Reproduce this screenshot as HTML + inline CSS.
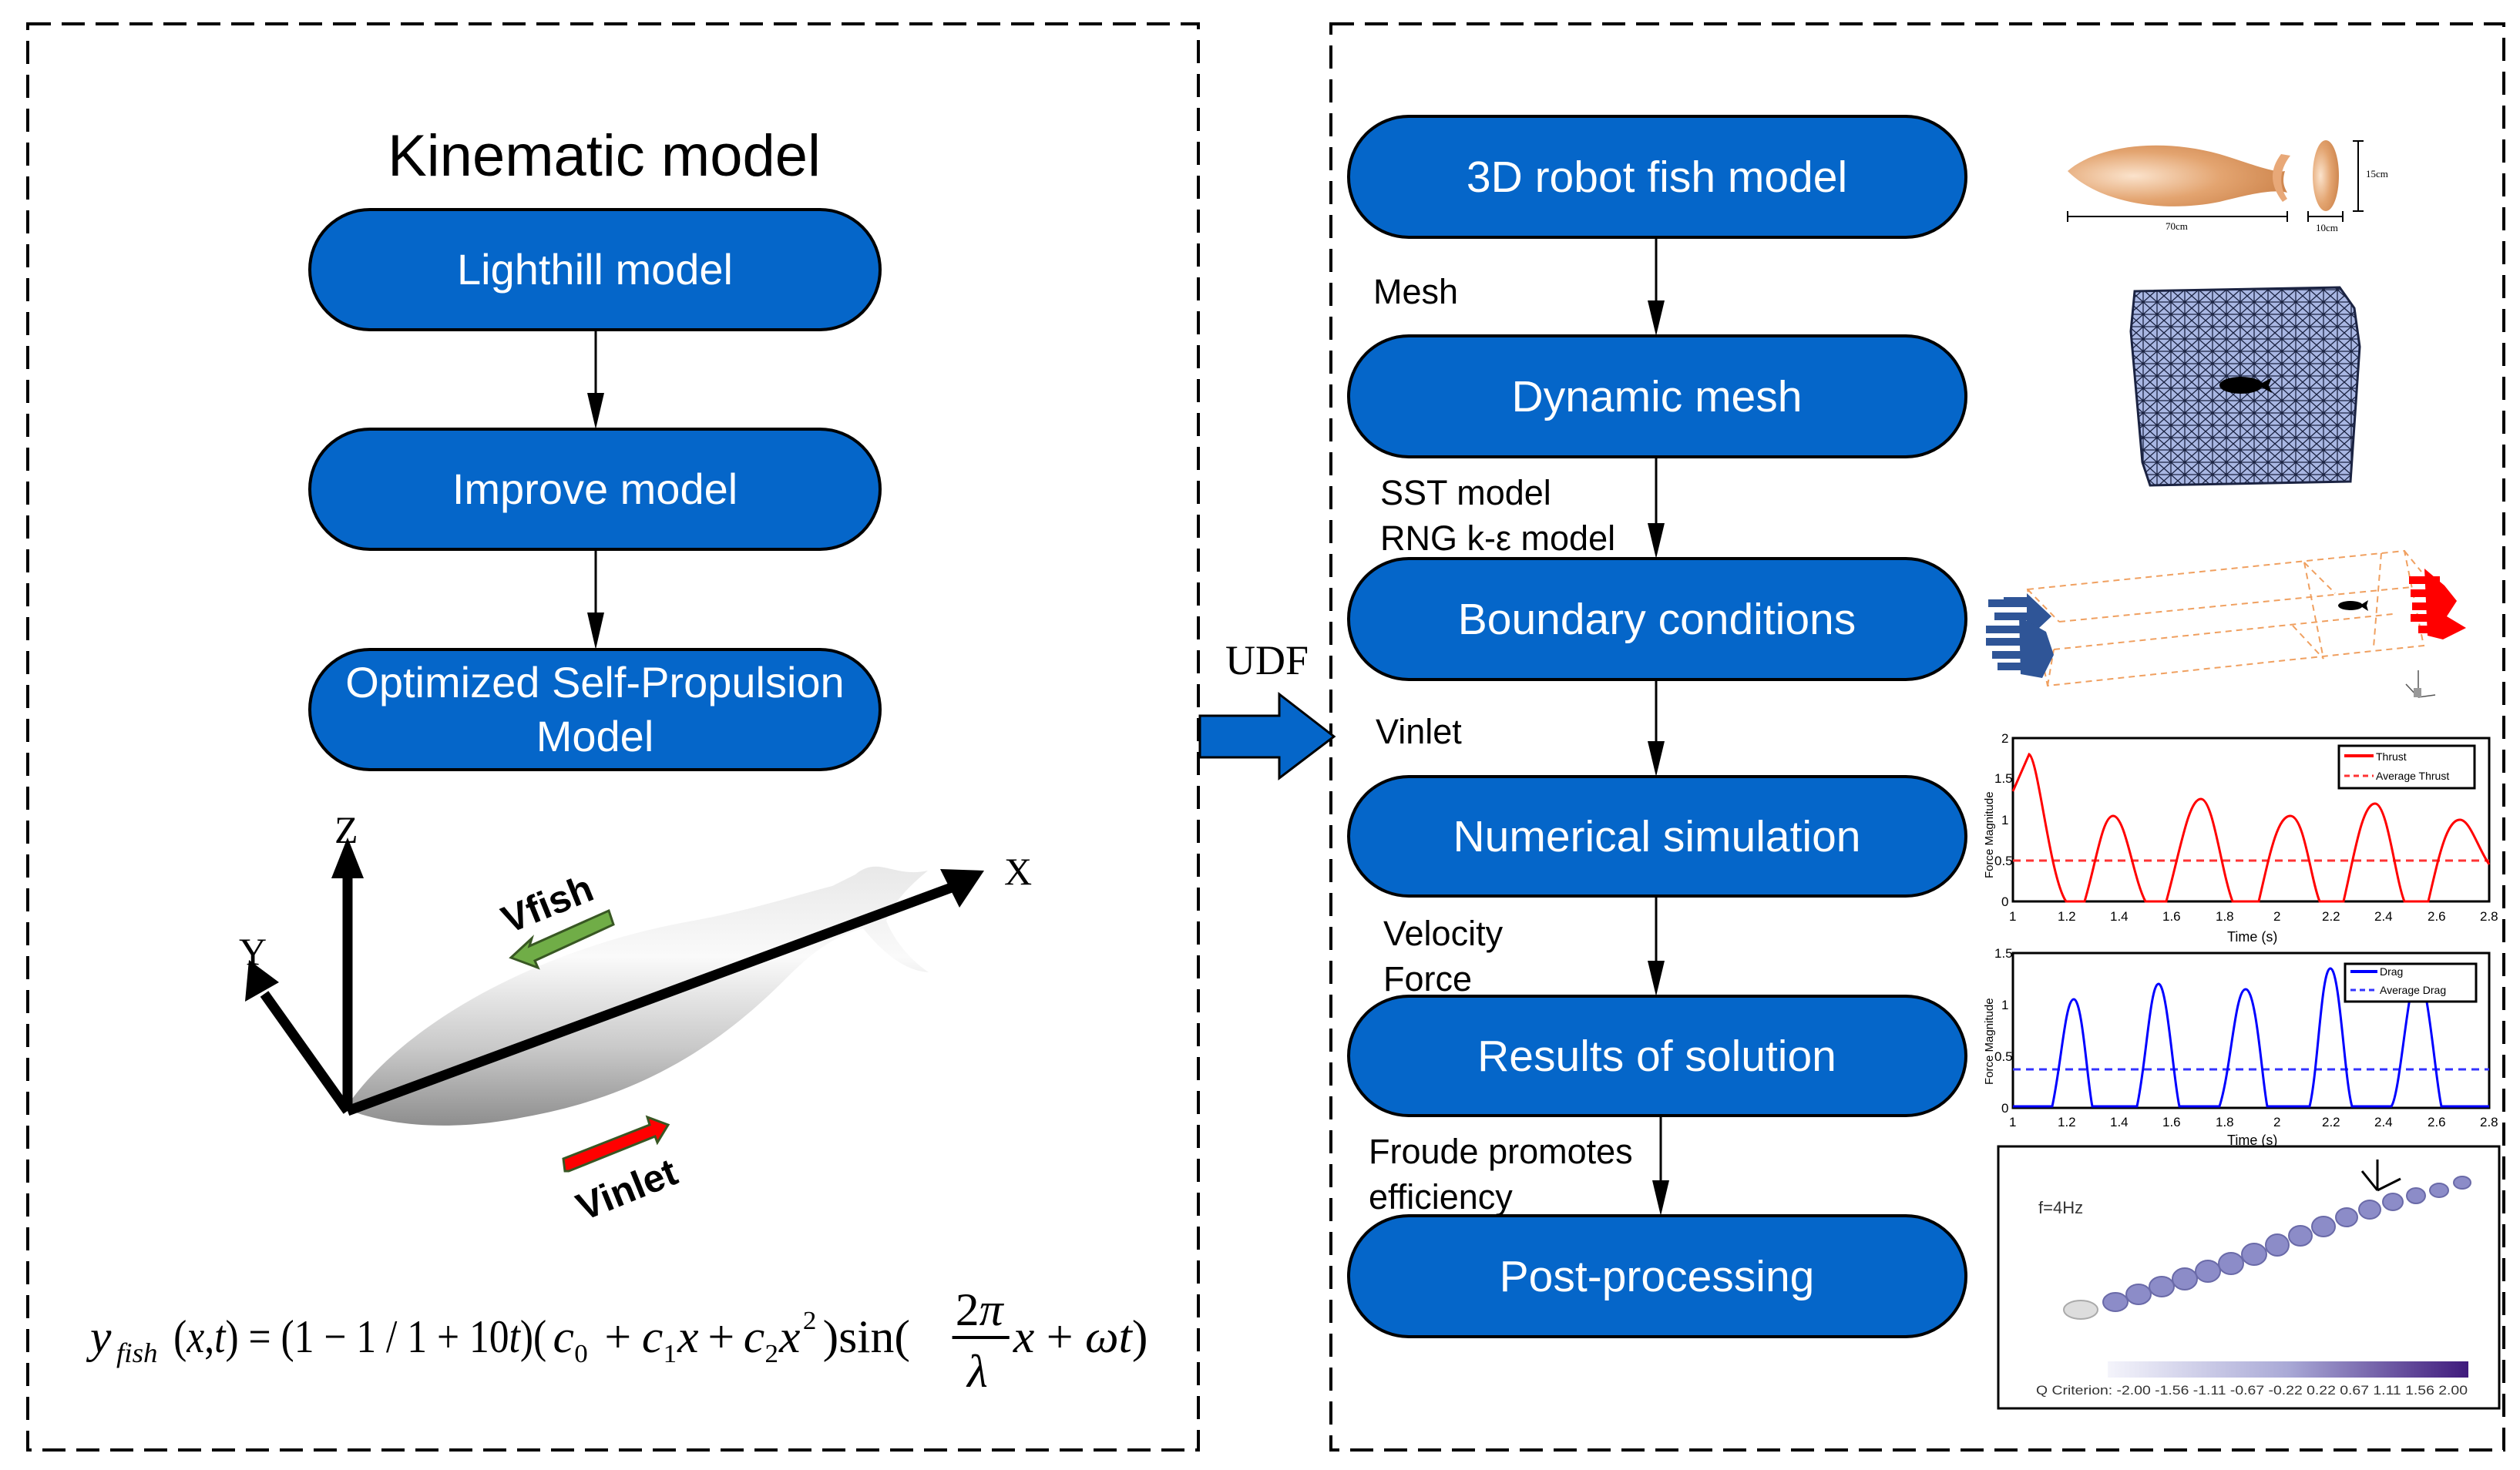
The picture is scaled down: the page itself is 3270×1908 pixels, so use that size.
<!DOCTYPE html>
<html><head><meta charset="utf-8"><style>
html,body{margin:0;padding:0;background:#fff;}
svg{display:block;}
</style></head><body>
<svg width="3270" height="1908" viewBox="0 0 3270 1908" xmlns="http://www.w3.org/2000/svg" font-family="Liberation Sans, Arial, sans-serif">
<defs>
<linearGradient id="fishg" x1="0" y1="0" x2="0" y2="1">
<stop offset="0" stop-color="#e8e8e8"/><stop offset="0.35" stop-color="#fafafa"/><stop offset="0.7" stop-color="#c9c9c9"/><stop offset="1" stop-color="#8e8e8e"/></linearGradient>
<radialGradient id="org" cx="0.3" cy="0.5" r="0.8"><stop offset="0" stop-color="#fbe3cc"/><stop offset="0.5" stop-color="#e3a470"/><stop offset="1" stop-color="#c97e45"/></radialGradient>
<pattern id="mesh" width="18" height="16" patternUnits="userSpaceOnUse">
<rect width="18" height="16" fill="#a9b7e3"/>
<path d="M0 0L18 16M18 0L0 16M0 8H18M9 0V16" stroke="#1b2342" stroke-width="1.3"/>
</pattern>
<linearGradient id="cb" x1="0" x2="1"><stop offset="0" stop-color="#f4f4fb"/><stop offset="0.5" stop-color="#a9a9d6"/><stop offset="1" stop-color="#3f1a7c"/></linearGradient>
</defs>

<rect x="36" y="31" width="1519" height="1851" fill="none" stroke="#000" stroke-width="4" stroke-dasharray="30 14"/>
<rect x="1727" y="31" width="1522" height="1851" fill="none" stroke="#000" stroke-width="4" stroke-dasharray="30 14"/>

<text x="784" y="228" font-size="76" text-anchor="middle" fill="#000">Kinematic model</text>

<g stroke="#000" stroke-width="4" fill="#0566c9">
<rect x="402" y="272" width="740" height="156" rx="78"/>
<rect x="402" y="557" width="740" height="156" rx="78"/>
<rect x="402" y="843" width="740" height="156" rx="78"/>
</g>
<g fill="#fff" font-size="56" text-anchor="middle">
<text x="772" y="369">Lighthill model</text>
<text x="772" y="654">Improve model</text>
<text x="772" y="905">Optimized Self-Propulsion</text>
<text x="772" y="975">Model</text>
</g>
<g stroke="#000" stroke-width="3">
<line x1="773" y1="428" x2="773" y2="515"/>
<line x1="773" y1="713" x2="773" y2="800"/>
</g>
<g fill="#000">
<polygon points="762,510 784,510 773,557"/>
<polygon points="762,795 784,795 773,843"/>
</g>

<path d="M448,1439 C520,1330 700,1230 900,1195 C980,1180 1040,1160 1080,1150 L1110,1135 C1140,1110 1160,1140 1204,1130 C1180,1150 1160,1170 1150,1195 C1160,1220 1180,1245 1205,1262 C1170,1260 1140,1230 1120,1205 C1080,1215 1050,1240 1020,1270 C950,1340 850,1420 680,1450 C580,1470 500,1460 448,1439 Z" fill="url(#fishg)"/>
<g stroke="#000" stroke-width="13" fill="none">
<line x1="451" y1="1442" x2="451" y2="1130"/>
<line x1="451" y1="1442" x2="343" y2="1290"/>
<line x1="451" y1="1442" x2="1240" y2="1150"/>
</g>
<polygon points="451,1087 430,1140 472,1140" fill="#000"/>
<polygon points="323,1246 318,1300 362,1275" fill="#000"/>
<polygon points="1277,1130 1220,1128 1245,1178" fill="#000"/>
<g font-family="Liberation Serif, serif" font-size="50" fill="#000">
<text x="434" y="1094">Z</text>
<text x="310" y="1252">Y</text>
<text x="1303" y="1148">X</text>
</g>
<polygon points="663,1243 690,1218 687,1228 790,1182 796,1200 694,1247 698,1256" fill="#70ad47" stroke="#385723" stroke-width="3"/>
<text x="0" y="0" font-size="50" font-weight="bold" fill="#000" transform="translate(660,1212) rotate(-22)">Vfish</text>
<polygon points="733,1520 731,1504 843,1460 840,1450 867,1460 853,1483 850,1475 738,1520" fill="#ff0000" stroke="#385723" stroke-width="3"/>
<text x="0" y="0" font-size="50" font-weight="bold" fill="#000" transform="translate(757,1585) rotate(-22)">Vinlet</text>

<g font-family="Liberation Serif, serif" fill="#000" transform="translate(117,0) scale(1.03,1) translate(-117,0)">
<text x="117" y="1755" font-size="60" font-style="italic">y</text>
<text x="150" y="1768" font-size="36" font-style="italic">fish</text>
<text x="222" y="1755" font-size="60" textLength="470" lengthAdjust="spacingAndGlyphs">(<tspan font-style="italic">x</tspan>,<tspan font-style="italic">t</tspan>) = (1 − 1 / 1 + 10<tspan font-style="italic">t</tspan>)(</text>
<text x="700" y="1755" font-size="60" font-style="italic">c</text>
<text x="727" y="1768" font-size="34">0</text>
<text x="765" y="1755" font-size="60">+</text>
<text x="812" y="1755" font-size="60" font-style="italic">c</text>
<text x="839" y="1768" font-size="34">1</text>
<text x="857" y="1755" font-size="60" font-style="italic">x</text>
<text x="895" y="1755" font-size="60">+</text>
<text x="940" y="1755" font-size="60" font-style="italic">c</text>
<text x="967" y="1768" font-size="34">2</text>
<text x="985" y="1755" font-size="60" font-style="italic">x</text>
<text x="1015" y="1725" font-size="34">2</text>
<text x="1040" y="1755" font-size="60">)sin(</text>
<text x="1207" y="1720" font-size="60">2<tspan font-style="italic">π</tspan></text>
<line x1="1203" y1="1736" x2="1275" y2="1736" stroke="#000" stroke-width="4"/>
<text x="1222" y="1800" font-size="60" font-style="italic">λ</text>
<text x="1280" y="1755" font-size="60"><tspan font-style="italic">x</tspan> + <tspan font-style="italic">ωt</tspan>)</text>
</g>

<text x="1590" y="875" font-family="Liberation Serif, serif" font-size="54" fill="#000">UDF</text>
<polygon points="1557,929 1660,929 1660,901 1731,956 1660,1010 1660,983 1557,983" fill="#0566c9" stroke="#000" stroke-width="3"/>

<g stroke="#000" stroke-width="4" fill="#0566c9">
<rect x="1750" y="151" width="801" height="157" rx="78"/>
<rect x="1750" y="436" width="801" height="157" rx="78"/>
<rect x="1750" y="725" width="801" height="157" rx="78"/>
<rect x="1750" y="1008" width="801" height="155" rx="78"/>
<rect x="1750" y="1293" width="801" height="155" rx="78"/>
<rect x="1750" y="1578" width="801" height="157" rx="78"/>
</g>
<g fill="#fff" font-size="57" text-anchor="middle">
<text x="2150" y="249">3D robot fish model</text>
<text x="2150" y="534">Dynamic mesh</text>
<text x="2150" y="823">Boundary conditions</text>
<text x="2150" y="1105">Numerical simulation</text>
<text x="2150" y="1390">Results of solution</text>
<text x="2150" y="1676">Post-processing</text>
</g>
<g stroke="#000" stroke-width="3">
<line x1="2149" y1="308" x2="2149" y2="395"/>
<line x1="2149" y1="593" x2="2149" y2="684"/>
<line x1="2149" y1="882" x2="2149" y2="968"/>
<line x1="2149" y1="1163" x2="2149" y2="1252"/>
<line x1="2155" y1="1448" x2="2155" y2="1537"/>
</g>
<g fill="#000">
<polygon points="2138,390 2160,390 2149,436"/>
<polygon points="2138,679 2160,679 2149,725"/>
<polygon points="2138,962 2160,962 2149,1008"/>
<polygon points="2138,1247 2160,1247 2149,1293"/>
<polygon points="2144,1532 2166,1532 2155,1578"/>
</g>
<g fill="#000" font-size="45">
<text x="1782" y="394">Mesh</text>
<text x="1791" y="655">SST model</text>
<text x="1791" y="714">RNG k-ε model</text>
<text x="1785" y="965">Vinlet</text>
<text x="1795" y="1227">Velocity</text>
<text x="1795" y="1286">Force</text>
<text x="1776" y="1510">Froude promotes</text>
<text x="1776" y="1569">efficiency</text>
</g>

<path d="M2683,222 C2720,190 2800,178 2880,200 C2920,212 2950,225 2965,222 C2962,232 2962,240 2968,250 C2950,245 2920,252 2880,262 C2800,278 2720,260 2683,222 Z" fill="url(#org)"/>
<path d="M2960,200 C2945,220 2945,240 2962,262 L2968,258 C2956,240 2958,220 2972,202 Z" fill="#e8a878"/>
<ellipse cx="3018" cy="228" rx="17" ry="46" fill="url(#org)"/>
<g stroke="#000" stroke-width="2" fill="none">
<line x1="2683" y1="281" x2="2968" y2="281"/><line x1="2683" y1="274" x2="2683" y2="288"/><line x1="2968" y1="274" x2="2968" y2="288"/>
<line x1="2995" y1="281" x2="3040" y2="281"/><line x1="2995" y1="274" x2="2995" y2="288"/><line x1="3040" y1="274" x2="3040" y2="288"/>
<line x1="3060" y1="183" x2="3060" y2="274"/><line x1="3053" y1="183" x2="3067" y2="183"/><line x1="3053" y1="274" x2="3067" y2="274"/>
</g>
<g font-family="Liberation Serif, serif" font-size="13" fill="#000">
<text x="2810" y="298">70cm</text><text x="3005" y="300">10cm</text><text x="3070" y="230">15cm</text>
</g>

<polygon points="2770,378 3036,373 3055,400 3062,450 3050,625 2790,630 2780,600 2765,430" fill="url(#mesh)" stroke="#1b2342" stroke-width="3"/>
<ellipse cx="2908" cy="500" rx="28" ry="11" fill="#000"/>
<polygon points="2930,500 2948,490 2944,500 2948,510" fill="#000"/>

<g stroke="#f0a060" stroke-width="2" stroke-dasharray="8 6" fill="none">
<polygon points="2631,765 3120,715 3145,838 2657,890"/>
<line x1="2631" y1="765" x2="2672" y2="807"/><line x1="2672" y1="807" x2="3130" y2="762"/>
<line x1="2657" y1="890" x2="2665" y2="843"/><line x1="2665" y1="843" x2="3105" y2="797"/>
<line x1="2990" y1="730" x2="3015" y2="855"/><line x1="3090" y1="718" x2="3080" y2="840"/>
<line x1="2990" y1="730" x2="3030" y2="770"/><line x1="2975" y1="812" x2="3015" y2="855"/>
<line x1="3120" y1="715" x2="3142" y2="742"/>
</g>
<ellipse cx="3050" cy="786" rx="16" ry="6" fill="#000"/>
<polygon points="3062,786 3073,779 3071,786 3073,793" fill="#000"/>
<g fill="#2f5597">
<polygon points="2600,775 2630,775 2630,770 2662,800 2630,830 2630,780 2600,780"/>
<rect x="2580" y="778" width="50" height="10"/><rect x="2588" y="795" width="55" height="10"/><rect x="2577" y="812" width="60" height="10"/>
<rect x="2577" y="828" width="55" height="10"/><rect x="2585" y="845" width="60" height="10"/><rect x="2592" y="860" width="50" height="10"/>
<polygon points="2620,800 2655,820 2665,850 2650,880 2622,875"/>
</g>
<g fill="#ff0000">
<polygon points="3146,738 3172,760 3188,780 3175,800 3200,815 3170,830 3150,825"/>
<rect x="3126" y="748" width="40" height="10"/><rect x="3128" y="765" width="45" height="10"/><rect x="3130" y="782" width="50" height="10"/>
<rect x="3128" y="797" width="45" height="10"/><rect x="3138" y="812" width="40" height="10"/>
</g>
<g stroke="#555" stroke-width="1.5"><line x1="3138" y1="905" x2="3138" y2="870"/><line x1="3138" y1="905" x2="3160" y2="902"/><line x1="3138" y1="905" x2="3122" y2="888"/></g>
<rect x="3132" y="893" width="10" height="12" fill="#999"/>

<g font-size="17" fill="#000">
<rect x="2612" y="958" width="618" height="212" fill="none" stroke="#000" stroke-width="3"/>
<line x1="2612" y1="1117" x2="3230" y2="1117" stroke="#ff3333" stroke-width="3" stroke-dasharray="10 7"/>
<path d="M2612,1027 L2633,979 C2645,985 2660,1140 2681,1170 L2705,1170 C2720,1120 2728,1059 2742,1059 C2758,1059 2768,1140 2784,1170 L2811,1170 C2830,1100 2840,1037 2856,1037 C2872,1037 2882,1130 2897,1170 L2931,1170 C2945,1110 2955,1059 2972,1059 C2990,1059 2998,1140 3010,1170 L3041,1170 C3055,1110 3065,1043 3082,1043 C3098,1043 3108,1140 3120,1170 L3151,1170 C3165,1110 3175,1064 3192,1064 C3205,1064 3215,1100 3230,1122" fill="none" stroke="#ff0000" stroke-width="3"/>
<rect x="3035" y="968" width="176" height="55" fill="#fff" stroke="#000" stroke-width="3"/>
<line x1="3042" y1="981" x2="3080" y2="981" stroke="#ff0000" stroke-width="4"/>
<line x1="3042" y1="1007" x2="3080" y2="1007" stroke="#ff3333" stroke-width="3" stroke-dasharray="7 5"/>
<text x="3083" y="987" font-size="14">Thrust</text><text x="3083" y="1012" font-size="14">Average Thrust</text>
<text x="2597" y="964">2</text><text x="2588" y="1016">1.5</text><text x="2597" y="1070">1</text><text x="2588" y="1123">0.5</text><text x="2597" y="1176">0</text>
<text x="2607" y="1195">1</text><text x="2670" y="1195">1.2</text><text x="2738" y="1195">1.4</text><text x="2806" y="1195">1.6</text><text x="2875" y="1195">1.8</text><text x="2950" y="1195">2</text><text x="3013" y="1195">2.2</text><text x="3081" y="1195">2.4</text><text x="3150" y="1195">2.6</text><text x="3218" y="1195">2.8</text>
<text x="2890" y="1222" font-size="18">Time (s)</text>
<text transform="translate(2586,1140) rotate(-90)" font-size="15">Force Magnitude</text>
</g>

<g font-size="17" fill="#000">
<rect x="2612" y="1237" width="618" height="201" fill="none" stroke="#000" stroke-width="3"/>
<line x1="2612" y1="1388" x2="3230" y2="1388" stroke="#3333ff" stroke-width="3" stroke-dasharray="10 7"/>
<path d="M2612,1436 L2663,1436 C2675,1380 2680,1297 2691,1297 C2702,1297 2708,1400 2715,1436 L2773,1436 C2785,1380 2790,1277 2801,1277 C2812,1277 2820,1400 2828,1436 L2880,1436 C2895,1390 2900,1284 2914,1284 C2928,1284 2935,1400 2942,1436 L2997,1436 C3008,1390 3012,1257 3024,1257 C3036,1257 3042,1400 3052,1436 L3103,1436 C3115,1420 3125,1264 3137,1264 C3150,1264 3160,1400 3168,1436 L3230,1436" fill="none" stroke="#0000ff" stroke-width="3"/>
<rect x="3043" y="1251" width="170" height="49" fill="#fff" stroke="#000" stroke-width="3"/>
<line x1="3050" y1="1261" x2="3085" y2="1261" stroke="#0000ff" stroke-width="4"/>
<line x1="3050" y1="1285" x2="3085" y2="1285" stroke="#3333ff" stroke-width="3" stroke-dasharray="7 5"/>
<text x="3088" y="1266" font-size="14">Drag</text><text x="3088" y="1290" font-size="14">Average Drag</text>
<text x="2588" y="1243">1.5</text><text x="2597" y="1310">1</text><text x="2588" y="1377">0.5</text><text x="2597" y="1444">0</text>
<text x="2607" y="1462">1</text><text x="2670" y="1462">1.2</text><text x="2738" y="1462">1.4</text><text x="2806" y="1462">1.6</text><text x="2875" y="1462">1.8</text><text x="2950" y="1462">2</text><text x="3013" y="1462">2.2</text><text x="3081" y="1462">2.4</text><text x="3150" y="1462">2.6</text><text x="3218" y="1462">2.8</text>
<text x="2890" y="1486" font-size="18">Time (s)</text>
<text transform="translate(2586,1408) rotate(-90)" font-size="15">Force Magnitude</text>
</g>

<rect x="2593" y="1488" width="650" height="340" fill="#fff" stroke="#000" stroke-width="3"/>
<text x="2645" y="1575" font-size="22" fill="#333">f=4Hz</text>
<g stroke="#000" stroke-width="3"><line x1="3085" y1="1545" x2="3085" y2="1505"/><line x1="3085" y1="1545" x2="3115" y2="1530"/><line x1="3085" y1="1545" x2="3065" y2="1520"/></g>
<g fill="#8c8cc8" stroke="#6a6aa8" stroke-width="2">
<ellipse cx="2700" cy="1700" rx="22" ry="12" fill="#ddd" stroke="#aaa"/>
<ellipse cx="2745" cy="1690" rx="16" ry="12"/><ellipse cx="2775" cy="1680" rx="16" ry="13"/><ellipse cx="2805" cy="1670" rx="16" ry="13"/>
<ellipse cx="2835" cy="1660" rx="16" ry="14"/><ellipse cx="2865" cy="1650" rx="16" ry="14"/><ellipse cx="2895" cy="1640" rx="16" ry="14"/>
<ellipse cx="2925" cy="1628" rx="16" ry="14"/><ellipse cx="2955" cy="1616" rx="15" ry="14"/><ellipse cx="2985" cy="1604" rx="15" ry="13"/>
<ellipse cx="3015" cy="1592" rx="15" ry="13"/><ellipse cx="3045" cy="1580" rx="14" ry="12"/><ellipse cx="3075" cy="1570" rx="14" ry="12"/>
<ellipse cx="3105" cy="1560" rx="13" ry="11"/><ellipse cx="3135" cy="1552" rx="12" ry="10"/><ellipse cx="3165" cy="1545" rx="12" ry="9"/><ellipse cx="3195" cy="1535" rx="11" ry="8"/>
</g>
<rect x="2735" y="1767" width="468" height="21" fill="url(#cb)"/>
<text x="2642" y="1810" font-size="17" fill="#333" textLength="560" lengthAdjust="spacingAndGlyphs">Q Criterion: -2.00 -1.56 -1.11 -0.67 -0.22  0.22 0.67 1.11 1.56 2.00</text>
</svg>
</body></html>
